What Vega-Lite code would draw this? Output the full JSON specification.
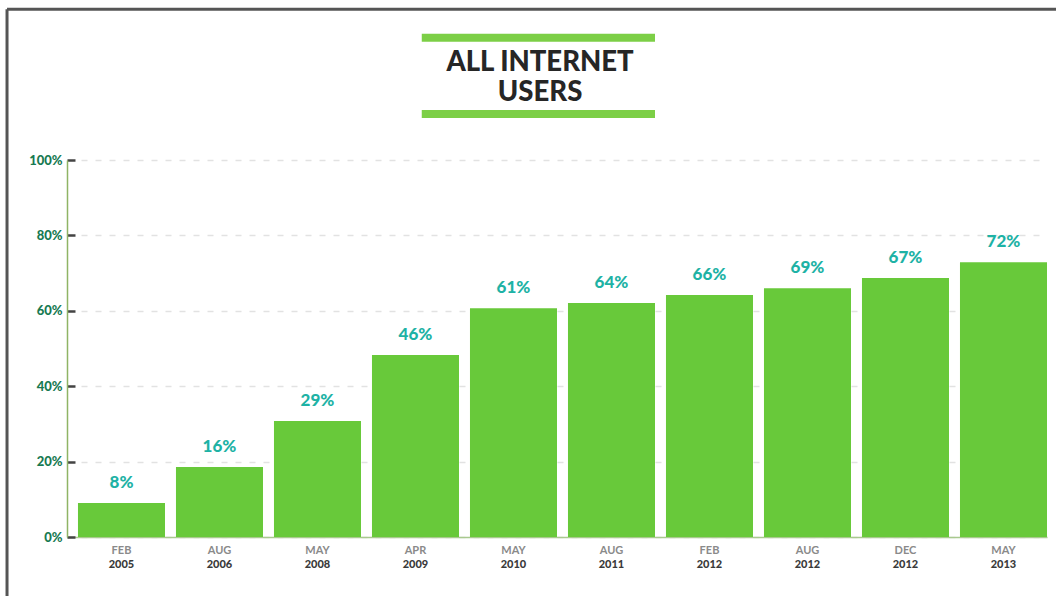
{
  "$schema": "https://vega.github.io/schema/vega-lite/v6.json",
  "autosize": "none",
  "width": 980,
  "height": 377,
  "padding": {"left": 67, "top": 160, "right": 9, "bottom": 59},
  "background": "#ffffff",
  "resolve": {"scale": {"x": "independent"}, "axis": {"x": "independent"}},
  "layer": [
    {
      "data": {
        "values": [
          {"period": "FEB 2005", "year": "2005", "height": 9.0, "share": "8%"},
          {"period": "AUG 2006", "year": "2006", "height": 18.6, "share": "16%"},
          {"period": "MAY 2008", "year": "2008", "height": 30.8, "share": "29%"},
          {"period": "APR 2009", "year": "2009", "height": 48.3, "share": "46%"},
          {"period": "MAY 2010", "year": "2010", "height": 60.7, "share": "61%"},
          {"period": "AUG 2011", "year": "2011", "height": 62.1, "share": "64%"},
          {"period": "FEB 2012", "year": "2012", "height": 64.2, "share": "66%"},
          {"period": "AUG 2012", "year": "2012", "height": 66.0, "share": "69%"},
          {"period": "DEC 2012", "year": "2012", "height": 68.7, "share": "67%"},
          {"period": "MAY 2013", "year": "2013", "height": 72.9, "share": "72%"}
        ]
      },
      "encoding": {
        "x": {
          "field": "period",
          "type": "nominal",
          "sort": null,
          "scale": {"paddingInner": 0.112, "paddingOuter": 0.056, "align": 1},
          "axis": {
            "title": null,
            "labelExpr": "split(datum.label, ' ')[0]",
            "labelAngle": 0,
            "labelFont": "Lato",
            "labelFontSize": 11,
            "labelFontWeight": 700,
            "labelColor": "#8a8a8a",
            "labelPadding": 7,
            "ticks": false,
            "domainColor": "#a9c98e",
            "domainWidth": 1.5
          }
        }
      },
      "layer": [
        {
          "mark": {"type": "bar", "color": "#68c93a"},
          "encoding": {
            "y": {
              "field": "height",
              "type": "quantitative",
              "scale": {"domain": [0, 100], "nice": false},
              "axis": {
                "title": null,
                "values": [0, 20, 40, 60, 80, 100],
                "labelExpr": "datum.value + '%'",
                "labelFont": "Lato",
                "labelFontSize": 13,
                "labelFontWeight": 900,
                "labelColor": "#187a52",
                "labelPadding": 13,
                "tickSize": -8,
                "tickColor": "#444444",
                "tickWidth": 2.5,
                "domainColor": "#8fb465",
                "domainWidth": 1.5,
                "grid": true,
                "gridColor": "#e2e2e2",
                "gridDash": [6, 8],
                "gridWidth": 1.5
              }
            }
          }
        },
        {
          "mark": {"type": "text", "font": "Lato", "fontSize": 17, "fontWeight": 900, "color": "#1eb2a5", "baseline": "middle", "dy": -20},
          "encoding": {
            "y": {"field": "height", "type": "quantitative"},
            "text": {"field": "share"}
          }
        },
        {
          "mark": {"type": "text", "font": "Lato", "fontSize": 11, "fontWeight": 900, "color": "#3a3a3a", "baseline": "middle", "dy": 28},
          "encoding": {
            "y": {"datum": 0, "type": "quantitative"},
            "text": {"field": "year"}
          }
        }
      ]
    },
    {
      "data": {"values": [{}]},
      "encoding": {
        "x": {"datum": 0.362, "type": "quantitative", "scale": {"domain": [0, 1], "nice": false, "zero": false}, "axis": null}
      },
      "layer": [
        {
          "mark": {"type": "rule", "color": "#7ccf46", "strokeWidth": 8},
          "encoding": {
            "x2": {"datum": 0.6},
            "y": {"datum": 132.4, "type": "quantitative"}
          }
        },
        {
          "mark": {"type": "rule", "color": "#7ccf46", "strokeWidth": 8},
          "encoding": {
            "x2": {"datum": 0.6},
            "y": {"datum": 112.2, "type": "quantitative"}
          }
        },
        {
          "mark": {"type": "text", "text": ["ALL INTERNET", "USERS"], "font": "Lato", "fontSize": 27.5, "fontWeight": 900, "color": "#262626", "lineHeight": 30, "baseline": "middle", "align": "center"},
          "encoding": {
            "x": {"datum": 0.4827, "type": "quantitative"},
            "y": {"datum": 125.8, "type": "quantitative"}
          }
        },
        {
          "mark": {"type": "rule", "color": "#555555", "strokeWidth": 3},
          "encoding": {
            "x": {"datum": -0.0612, "type": "quantitative"},
            "x2": {"datum": 1.01},
            "y": {"datum": 140.0, "type": "quantitative"}
          }
        },
        {
          "mark": {"type": "rule", "color": "#555555", "strokeWidth": 3},
          "encoding": {
            "x": {"datum": -0.0612, "type": "quantitative"},
            "y": {"datum": 140.0, "type": "quantitative"},
            "y2": {"datum": -16}
          }
        }
      ]
    }
  ],
  "config": {"view": {"stroke": null}}
}
